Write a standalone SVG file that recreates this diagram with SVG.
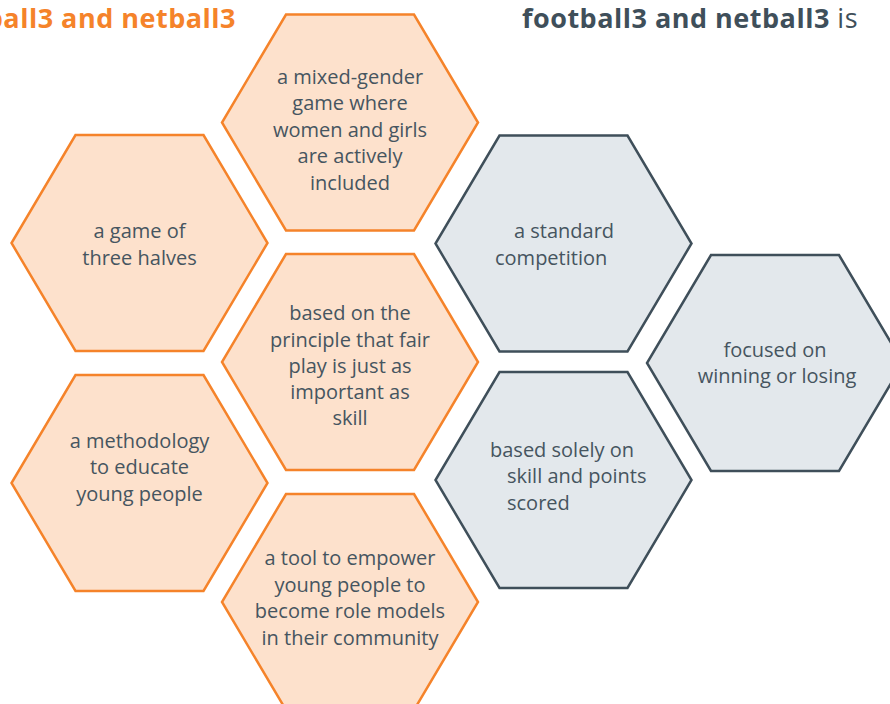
<svg xmlns="http://www.w3.org/2000/svg" width="890" height="704" viewBox="0 0 890 704">
<defs>
<style>
.o{fill:#FDE1CC;stroke:#F5832A;stroke-width:2.5;stroke-linejoin:miter}
.g{fill:#E3E8EC;stroke:#3F4F5A;stroke-width:2.5;stroke-linejoin:miter}
.t{font-family:"Open Sans","Liberation Sans",sans-serif;font-size:20px;fill:#465560}
.c{text-anchor:middle}
.h{font-family:"Open Sans","Liberation Sans",sans-serif;font-size:27px;font-weight:bold;letter-spacing:0.5px}
</style>
<polygon id="hex" points="-64,-108 64,-108 128,0 64,108 -64,108 -128,0"/>
</defs>
<rect width="890" height="704" fill="#FFFFFF"/>
<text class="h" x="236" y="28" text-anchor="end" fill="#F5832A">football3 and netball3</text>
<text class="h" x="522" y="28" fill="#3F4F5A">football3 and netball3 <tspan font-weight="normal">is</tspan></text>
<g id="connectors"/>
<g id="n-three-halves">
<use href="#hex" class="o" x="139.5" y="243"/>
<text class="t c"><tspan x="139.5" y="238">a game of</tspan><tspan x="139.5" y="265">three halves</tspan></text>
</g>
<g id="n-mixed-gender">
<use href="#hex" class="o" x="350" y="122.5"/>
<text class="t c"><tspan x="350" y="84">a mixed-gender</tspan><tspan x="350" y="110">game where</tspan><tspan x="350" y="137">women and girls</tspan><tspan x="350" y="163">are actively</tspan><tspan x="350" y="190">included</tspan></text>
</g>
<g id="n-fair-play">
<use href="#hex" class="o" x="350" y="362"/>
<text class="t c"><tspan x="350" y="320">based on the</tspan><tspan x="350" y="347">principle that fair</tspan><tspan x="350" y="373">play is just as</tspan><tspan x="350" y="399">important as</tspan><tspan x="350" y="425">skill</tspan></text>
</g>
<g id="n-methodology">
<use href="#hex" class="o" x="139.5" y="483"/>
<text class="t c"><tspan x="139.5" y="448">a methodology</tspan><tspan x="139.5" y="474">to educate</tspan><tspan x="139.5" y="501">young people</tspan></text>
</g>
<g id="n-tool">
<use href="#hex" class="o" x="350" y="602"/>
<text class="t c"><tspan x="350" y="565">a tool to empower</tspan><tspan x="350" y="592">young people to</tspan><tspan x="350" y="618">become role models</tspan><tspan x="350" y="645">in their community</tspan></text>
</g>
<g id="n-standard">
<use href="#hex" class="g" x="563.5" y="243.5"/>
<text class="t"><tspan x="514" y="238">a standard</tspan><tspan x="495" y="265">competition</tspan></text>
</g>
<g id="n-winning">
<use href="#hex" class="g" x="775" y="363"/>
<text class="t c"><tspan x="775" y="357">focused on</tspan><tspan x="777" y="383">winning or losing</tspan></text>
</g>
<g id="n-solely">
<use href="#hex" class="g" x="563.5" y="480"/>
<text class="t"><tspan x="490" y="457">based solely on</tspan><tspan x="507" y="483">skill and points</tspan><tspan x="507" y="510">scored</tspan></text>
</g>
</svg>
